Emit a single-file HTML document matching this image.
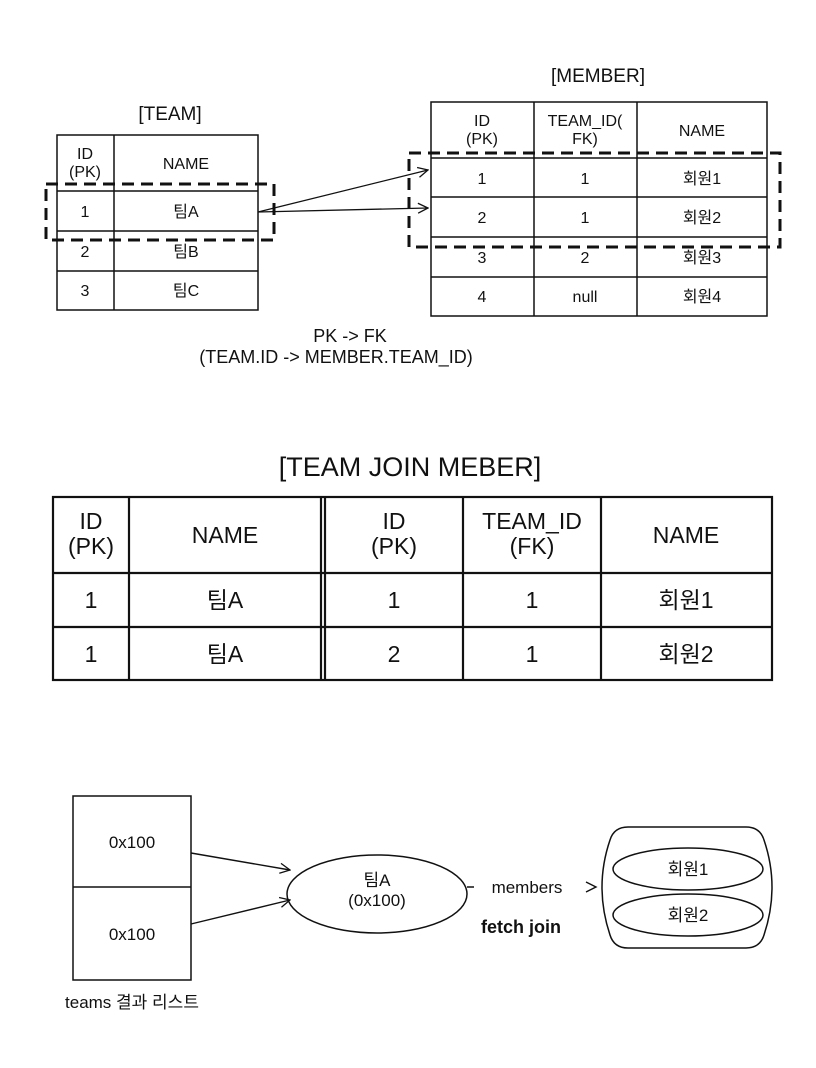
<!DOCTYPE html>
<html><head><meta charset="utf-8"><style>
html,body{margin:0;padding:0;background:#fff;}
svg{display:block;}
text{font-family:"Liberation Sans","Noto Sans CJK KR",sans-serif;fill:#111;}
</style></head><body>
<svg width="816" height="1068" viewBox="0 0 816 1068" xmlns="http://www.w3.org/2000/svg">
<defs>
<marker id="ar" markerWidth="12" markerHeight="12" refX="11" refY="6" orient="auto" markerUnits="userSpaceOnUse">
<path d="M1,1 L11,6 L1,11" fill="none" stroke="#111" stroke-width="1.3"/>
</marker>
</defs>
<g stroke="#111" stroke-width="1.5" fill="none">
<rect x="57" y="135" width="201" height="175"/>
<line x1="114" y1="135" x2="114" y2="310"/>
<line x1="57" y1="191" x2="258" y2="191"/>
<line x1="57" y1="231" x2="258" y2="231"/>
<line x1="57" y1="271" x2="258" y2="271"/>
<rect x="431" y="102" width="336" height="214"/>
<line x1="534" y1="102" x2="534" y2="316"/>
<line x1="637" y1="102" x2="637" y2="316"/>
<line x1="431" y1="158" x2="767" y2="158"/>
<line x1="431" y1="197" x2="767" y2="197"/>
<line x1="431" y1="237" x2="767" y2="237"/>
<line x1="431" y1="277" x2="767" y2="277"/>
</g>
<g stroke="#111" stroke-width="3" fill="none" stroke-dasharray="12,7">
<rect x="46" y="184" width="228" height="56"/>
<rect x="409" y="153" width="371" height="94"/>
</g>
<g stroke="#111" stroke-width="1.3">
<line x1="258" y1="212" x2="428" y2="170" marker-end="url(#ar)"/>
<line x1="258" y1="212" x2="428" y2="208" marker-end="url(#ar)"/>
</g>
<g font-size="16" text-anchor="middle">
<text x="170" y="120" font-size="19">[TEAM]</text>
<text x="598" y="82" font-size="19">[MEMBER]</text>
<text x="85" y="159">ID</text><text x="85" y="177">(PK)</text>
<text x="186" y="169">NAME</text>
<text x="85" y="217">1</text><text x="186" y="217">팀A</text>
<text x="85" y="257">2</text><text x="186" y="257">팀B</text>
<text x="85" y="296">3</text><text x="186" y="296">팀C</text>
<text x="482" y="126">ID</text><text x="482" y="144">(PK)</text>
<text x="585" y="126">TEAM_ID(</text><text x="585" y="144">FK)</text>
<text x="702" y="136">NAME</text>
<text x="482" y="184">1</text><text x="585" y="184">1</text><text x="702" y="184">회원1</text>
<text x="482" y="223">2</text><text x="585" y="223">1</text><text x="702" y="223">회원2</text>
<text x="482" y="263">3</text><text x="585" y="263">2</text><text x="702" y="263">회원3</text>
<text x="482" y="302">4</text><text x="585" y="302">null</text><text x="702" y="302">회원4</text>
<text x="350" y="342" font-size="18">PK -&gt; FK</text>
<text x="336" y="363" font-size="18">(TEAM.ID -&gt; MEMBER.TEAM_ID)</text>
</g>
<text x="410" y="476" font-size="27" text-anchor="middle">[TEAM JOIN MEBER]</text>
<g stroke="#111" stroke-width="2.2" fill="none">
<rect x="53" y="497" width="719" height="183"/>
<line x1="129" y1="497" x2="129" y2="680"/>
<line x1="321" y1="497" x2="321" y2="680"/>
<line x1="325" y1="497" x2="325" y2="680"/>
<line x1="463" y1="497" x2="463" y2="680"/>
<line x1="601" y1="497" x2="601" y2="680"/>
<line x1="53" y1="573" x2="772" y2="573"/>
<line x1="53" y1="627" x2="772" y2="627"/>
</g>
<g font-size="23" text-anchor="middle">
<text x="91" y="529">ID</text><text x="91" y="554">(PK)</text>
<text x="225" y="543">NAME</text>
<text x="394" y="529">ID</text><text x="394" y="554">(PK)</text>
<text x="532" y="529">TEAM_ID</text><text x="532" y="554">(FK)</text>
<text x="686" y="543">NAME</text>
<text x="91" y="608">1</text><text x="225" y="608">팀A</text><text x="394" y="608">1</text><text x="532" y="608">1</text><text x="686" y="608">회원1</text>
<text x="91" y="662">1</text><text x="225" y="662">팀A</text><text x="394" y="662">2</text><text x="532" y="662">1</text><text x="686" y="662">회원2</text>
</g>
<g stroke="#111" stroke-width="1.5" fill="none">
<rect x="73" y="796" width="118" height="184"/>
<line x1="73" y1="887" x2="191" y2="887"/>
<ellipse cx="377" cy="894" rx="90" ry="39"/>
<path d="M628,827 L746,827 Q760,827 764,840 Q780,887 764,935 Q760,948 746,948 L628,948 Q614,948 610,935 Q594,887 610,840 Q614,827 628,827 Z"/>
<ellipse cx="688" cy="869" rx="75" ry="21"/>
<ellipse cx="688" cy="915" rx="75" ry="21"/>
<line x1="467" y1="887" x2="474" y2="887"/>
</g>
<g stroke="#111" stroke-width="1.4">
<line x1="191" y1="853" x2="290" y2="870" marker-end="url(#ar)"/>
<line x1="191" y1="924" x2="290" y2="900" marker-end="url(#ar)"/>
</g>
<path d="M586,882 L596,887 L586,892" fill="none" stroke="#111" stroke-width="1.4"/>
<g font-size="17" text-anchor="middle">
<text x="132" y="848">0x100</text>
<text x="132" y="940">0x100</text>
<text x="377" y="886">팀A</text>
<text x="377" y="906">(0x100)</text>
<text x="688" y="875">회원1</text>
<text x="688" y="921">회원2</text>
<text x="527" y="893">members</text>
<text x="521" y="933" font-weight="bold" font-size="18">fetch join</text>
<text x="132" y="1008">teams 결과 리스트</text>
</g>
</svg>
</body></html>
